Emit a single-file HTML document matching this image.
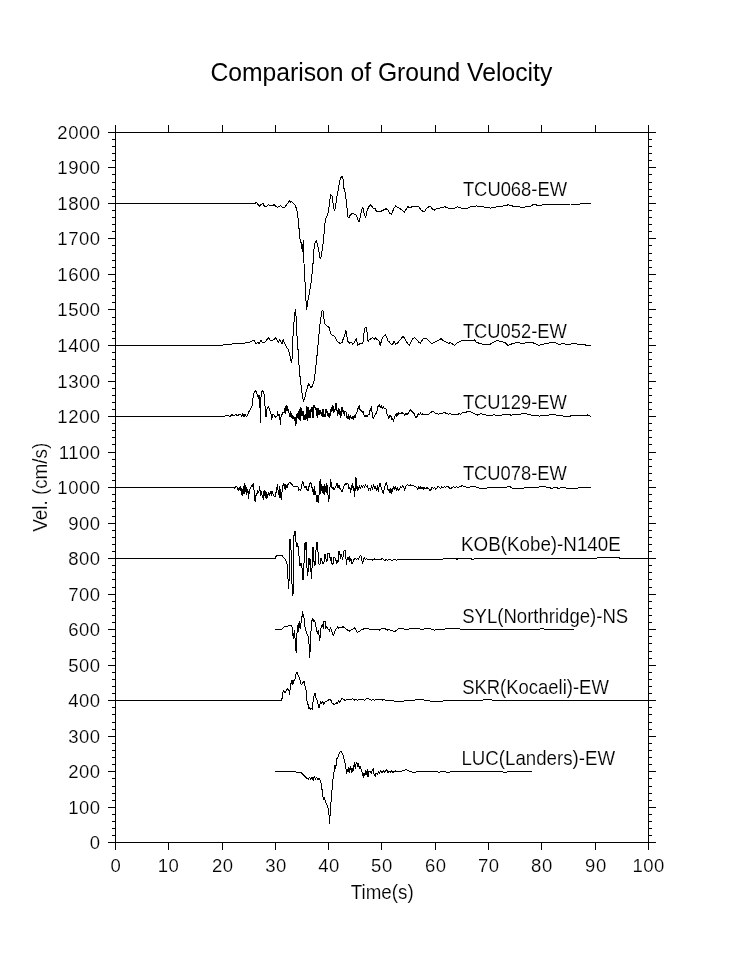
<!DOCTYPE html>
<html><head><meta charset="utf-8"><title>Comparison of Ground Velocity</title>
<style>html,body{margin:0;padding:0;background:#fff}body{width:754px;height:976px;position:relative;overflow:hidden;font-family:"Liberation Sans",sans-serif}</style>
</head><body>
<svg width="754" height="976" viewBox="0 0 754 976" style="position:absolute;left:0;top:0;will-change:transform">
<g fill="#000" shape-rendering="crispEdges">
<rect x="108" y="132" width="548" height="1"/>
<rect x="108" y="842" width="548" height="1"/>
<rect x="115" y="125" width="1" height="725"/>
<rect x="648" y="125" width="1" height="725"/>
<rect x="108" y="842" width="8" height="1"/>
<rect x="648" y="842" width="8" height="1"/>
<rect x="112" y="835" width="4" height="1"/>
<rect x="648" y="835" width="4" height="1"/>
<rect x="112" y="828" width="4" height="1"/>
<rect x="648" y="828" width="4" height="1"/>
<rect x="112" y="821" width="4" height="1"/>
<rect x="648" y="821" width="4" height="1"/>
<rect x="112" y="814" width="4" height="1"/>
<rect x="648" y="814" width="4" height="1"/>
<rect x="108" y="807" width="8" height="1"/>
<rect x="648" y="807" width="8" height="1"/>
<rect x="112" y="800" width="4" height="1"/>
<rect x="648" y="800" width="4" height="1"/>
<rect x="112" y="793" width="4" height="1"/>
<rect x="648" y="793" width="4" height="1"/>
<rect x="112" y="786" width="4" height="1"/>
<rect x="648" y="786" width="4" height="1"/>
<rect x="112" y="778" width="4" height="1"/>
<rect x="648" y="778" width="4" height="1"/>
<rect x="108" y="771" width="8" height="1"/>
<rect x="648" y="771" width="8" height="1"/>
<rect x="112" y="764" width="4" height="1"/>
<rect x="648" y="764" width="4" height="1"/>
<rect x="112" y="757" width="4" height="1"/>
<rect x="648" y="757" width="4" height="1"/>
<rect x="112" y="750" width="4" height="1"/>
<rect x="648" y="750" width="4" height="1"/>
<rect x="112" y="743" width="4" height="1"/>
<rect x="648" y="743" width="4" height="1"/>
<rect x="108" y="736" width="8" height="1"/>
<rect x="648" y="736" width="8" height="1"/>
<rect x="112" y="729" width="4" height="1"/>
<rect x="648" y="729" width="4" height="1"/>
<rect x="112" y="722" width="4" height="1"/>
<rect x="648" y="722" width="4" height="1"/>
<rect x="112" y="714" width="4" height="1"/>
<rect x="648" y="714" width="4" height="1"/>
<rect x="112" y="707" width="4" height="1"/>
<rect x="648" y="707" width="4" height="1"/>
<rect x="108" y="700" width="8" height="1"/>
<rect x="648" y="700" width="8" height="1"/>
<rect x="112" y="693" width="4" height="1"/>
<rect x="648" y="693" width="4" height="1"/>
<rect x="112" y="686" width="4" height="1"/>
<rect x="648" y="686" width="4" height="1"/>
<rect x="112" y="679" width="4" height="1"/>
<rect x="648" y="679" width="4" height="1"/>
<rect x="112" y="672" width="4" height="1"/>
<rect x="648" y="672" width="4" height="1"/>
<rect x="108" y="665" width="8" height="1"/>
<rect x="648" y="665" width="8" height="1"/>
<rect x="112" y="658" width="4" height="1"/>
<rect x="648" y="658" width="4" height="1"/>
<rect x="112" y="651" width="4" height="1"/>
<rect x="648" y="651" width="4" height="1"/>
<rect x="112" y="643" width="4" height="1"/>
<rect x="648" y="643" width="4" height="1"/>
<rect x="112" y="636" width="4" height="1"/>
<rect x="648" y="636" width="4" height="1"/>
<rect x="108" y="629" width="8" height="1"/>
<rect x="648" y="629" width="8" height="1"/>
<rect x="112" y="622" width="4" height="1"/>
<rect x="648" y="622" width="4" height="1"/>
<rect x="112" y="615" width="4" height="1"/>
<rect x="648" y="615" width="4" height="1"/>
<rect x="112" y="608" width="4" height="1"/>
<rect x="648" y="608" width="4" height="1"/>
<rect x="112" y="601" width="4" height="1"/>
<rect x="648" y="601" width="4" height="1"/>
<rect x="108" y="594" width="8" height="1"/>
<rect x="648" y="594" width="8" height="1"/>
<rect x="112" y="587" width="4" height="1"/>
<rect x="648" y="587" width="4" height="1"/>
<rect x="112" y="579" width="4" height="1"/>
<rect x="648" y="579" width="4" height="1"/>
<rect x="112" y="572" width="4" height="1"/>
<rect x="648" y="572" width="4" height="1"/>
<rect x="112" y="565" width="4" height="1"/>
<rect x="648" y="565" width="4" height="1"/>
<rect x="108" y="558" width="8" height="1"/>
<rect x="648" y="558" width="8" height="1"/>
<rect x="112" y="551" width="4" height="1"/>
<rect x="648" y="551" width="4" height="1"/>
<rect x="112" y="544" width="4" height="1"/>
<rect x="648" y="544" width="4" height="1"/>
<rect x="112" y="537" width="4" height="1"/>
<rect x="648" y="537" width="4" height="1"/>
<rect x="112" y="530" width="4" height="1"/>
<rect x="648" y="530" width="4" height="1"/>
<rect x="108" y="523" width="8" height="1"/>
<rect x="648" y="523" width="8" height="1"/>
<rect x="112" y="516" width="4" height="1"/>
<rect x="648" y="516" width="4" height="1"/>
<rect x="112" y="508" width="4" height="1"/>
<rect x="648" y="508" width="4" height="1"/>
<rect x="112" y="501" width="4" height="1"/>
<rect x="648" y="501" width="4" height="1"/>
<rect x="112" y="494" width="4" height="1"/>
<rect x="648" y="494" width="4" height="1"/>
<rect x="108" y="487" width="8" height="1"/>
<rect x="648" y="487" width="8" height="1"/>
<rect x="112" y="480" width="4" height="1"/>
<rect x="648" y="480" width="4" height="1"/>
<rect x="112" y="473" width="4" height="1"/>
<rect x="648" y="473" width="4" height="1"/>
<rect x="112" y="466" width="4" height="1"/>
<rect x="648" y="466" width="4" height="1"/>
<rect x="112" y="459" width="4" height="1"/>
<rect x="648" y="459" width="4" height="1"/>
<rect x="108" y="452" width="8" height="1"/>
<rect x="648" y="452" width="8" height="1"/>
<rect x="112" y="444" width="4" height="1"/>
<rect x="648" y="444" width="4" height="1"/>
<rect x="112" y="437" width="4" height="1"/>
<rect x="648" y="437" width="4" height="1"/>
<rect x="112" y="430" width="4" height="1"/>
<rect x="648" y="430" width="4" height="1"/>
<rect x="112" y="423" width="4" height="1"/>
<rect x="648" y="423" width="4" height="1"/>
<rect x="108" y="416" width="8" height="1"/>
<rect x="648" y="416" width="8" height="1"/>
<rect x="112" y="409" width="4" height="1"/>
<rect x="648" y="409" width="4" height="1"/>
<rect x="112" y="402" width="4" height="1"/>
<rect x="648" y="402" width="4" height="1"/>
<rect x="112" y="395" width="4" height="1"/>
<rect x="648" y="395" width="4" height="1"/>
<rect x="112" y="388" width="4" height="1"/>
<rect x="648" y="388" width="4" height="1"/>
<rect x="108" y="381" width="8" height="1"/>
<rect x="648" y="381" width="8" height="1"/>
<rect x="112" y="373" width="4" height="1"/>
<rect x="648" y="373" width="4" height="1"/>
<rect x="112" y="366" width="4" height="1"/>
<rect x="648" y="366" width="4" height="1"/>
<rect x="112" y="359" width="4" height="1"/>
<rect x="648" y="359" width="4" height="1"/>
<rect x="112" y="352" width="4" height="1"/>
<rect x="648" y="352" width="4" height="1"/>
<rect x="108" y="345" width="8" height="1"/>
<rect x="648" y="345" width="8" height="1"/>
<rect x="112" y="338" width="4" height="1"/>
<rect x="648" y="338" width="4" height="1"/>
<rect x="112" y="331" width="4" height="1"/>
<rect x="648" y="331" width="4" height="1"/>
<rect x="112" y="324" width="4" height="1"/>
<rect x="648" y="324" width="4" height="1"/>
<rect x="112" y="317" width="4" height="1"/>
<rect x="648" y="317" width="4" height="1"/>
<rect x="108" y="309" width="8" height="1"/>
<rect x="648" y="309" width="8" height="1"/>
<rect x="112" y="302" width="4" height="1"/>
<rect x="648" y="302" width="4" height="1"/>
<rect x="112" y="295" width="4" height="1"/>
<rect x="648" y="295" width="4" height="1"/>
<rect x="112" y="288" width="4" height="1"/>
<rect x="648" y="288" width="4" height="1"/>
<rect x="112" y="281" width="4" height="1"/>
<rect x="648" y="281" width="4" height="1"/>
<rect x="108" y="274" width="8" height="1"/>
<rect x="648" y="274" width="8" height="1"/>
<rect x="112" y="267" width="4" height="1"/>
<rect x="648" y="267" width="4" height="1"/>
<rect x="112" y="260" width="4" height="1"/>
<rect x="648" y="260" width="4" height="1"/>
<rect x="112" y="253" width="4" height="1"/>
<rect x="648" y="253" width="4" height="1"/>
<rect x="112" y="245" width="4" height="1"/>
<rect x="648" y="245" width="4" height="1"/>
<rect x="108" y="238" width="8" height="1"/>
<rect x="648" y="238" width="8" height="1"/>
<rect x="112" y="231" width="4" height="1"/>
<rect x="648" y="231" width="4" height="1"/>
<rect x="112" y="224" width="4" height="1"/>
<rect x="648" y="224" width="4" height="1"/>
<rect x="112" y="217" width="4" height="1"/>
<rect x="648" y="217" width="4" height="1"/>
<rect x="112" y="210" width="4" height="1"/>
<rect x="648" y="210" width="4" height="1"/>
<rect x="108" y="203" width="8" height="1"/>
<rect x="648" y="203" width="8" height="1"/>
<rect x="112" y="196" width="4" height="1"/>
<rect x="648" y="196" width="4" height="1"/>
<rect x="112" y="189" width="4" height="1"/>
<rect x="648" y="189" width="4" height="1"/>
<rect x="112" y="182" width="4" height="1"/>
<rect x="648" y="182" width="4" height="1"/>
<rect x="112" y="174" width="4" height="1"/>
<rect x="648" y="174" width="4" height="1"/>
<rect x="108" y="167" width="8" height="1"/>
<rect x="648" y="167" width="8" height="1"/>
<rect x="112" y="160" width="4" height="1"/>
<rect x="648" y="160" width="4" height="1"/>
<rect x="112" y="153" width="4" height="1"/>
<rect x="648" y="153" width="4" height="1"/>
<rect x="112" y="146" width="4" height="1"/>
<rect x="648" y="146" width="4" height="1"/>
<rect x="112" y="139" width="4" height="1"/>
<rect x="648" y="139" width="4" height="1"/>
<rect x="108" y="132" width="8" height="1"/>
<rect x="648" y="132" width="8" height="1"/>
<rect x="115" y="125" width="1" height="8"/>
<rect x="115" y="842" width="1" height="8"/>
<rect x="168" y="125" width="1" height="8"/>
<rect x="168" y="842" width="1" height="8"/>
<rect x="222" y="125" width="1" height="8"/>
<rect x="222" y="842" width="1" height="8"/>
<rect x="275" y="125" width="1" height="8"/>
<rect x="275" y="842" width="1" height="8"/>
<rect x="328" y="125" width="1" height="8"/>
<rect x="328" y="842" width="1" height="8"/>
<rect x="381" y="125" width="1" height="8"/>
<rect x="381" y="842" width="1" height="8"/>
<rect x="435" y="125" width="1" height="8"/>
<rect x="435" y="842" width="1" height="8"/>
<rect x="488" y="125" width="1" height="8"/>
<rect x="488" y="842" width="1" height="8"/>
<rect x="541" y="125" width="1" height="8"/>
<rect x="541" y="842" width="1" height="8"/>
<rect x="595" y="125" width="1" height="8"/>
<rect x="595" y="842" width="1" height="8"/>
<rect x="648" y="125" width="1" height="8"/>
<rect x="648" y="842" width="1" height="8"/>
</g>
<g font-family="'Liberation Sans', sans-serif" fill="#000" stroke="#fff" stroke-width="0.15">
<text x="210.45" y="81.00" font-size="25.6" textLength="341.80" lengthAdjust="spacingAndGlyphs" stroke="none">Comparison of Ground Velocity</text>
<text x="89.83" y="848.70" font-size="18.5" letter-spacing="0.55">0</text>
<text x="68.15" y="813.70" font-size="18.5" letter-spacing="0.55">100</text>
<text x="68.15" y="777.70" font-size="18.5" letter-spacing="0.55">200</text>
<text x="68.15" y="742.70" font-size="18.5" letter-spacing="0.55">300</text>
<text x="68.15" y="706.70" font-size="18.5" letter-spacing="0.55">400</text>
<text x="68.15" y="671.70" font-size="18.5" letter-spacing="0.55">500</text>
<text x="68.15" y="635.70" font-size="18.5" letter-spacing="0.55">600</text>
<text x="68.15" y="600.70" font-size="18.5" letter-spacing="0.55">700</text>
<text x="68.15" y="564.70" font-size="18.5" letter-spacing="0.55">800</text>
<text x="68.15" y="529.70" font-size="18.5" letter-spacing="0.55">900</text>
<text x="57.31" y="493.70" font-size="18.5" letter-spacing="0.55">1000</text>
<text x="58.69" y="458.70" font-size="18.5" letter-spacing="0.55">1100</text>
<text x="57.31" y="422.70" font-size="18.5" letter-spacing="0.55">1200</text>
<text x="57.31" y="387.70" font-size="18.5" letter-spacing="0.55">1300</text>
<text x="57.31" y="351.70" font-size="18.5" letter-spacing="0.55">1400</text>
<text x="57.31" y="315.70" font-size="18.5" letter-spacing="0.55">1500</text>
<text x="57.31" y="280.70" font-size="18.5" letter-spacing="0.55">1600</text>
<text x="57.31" y="244.70" font-size="18.5" letter-spacing="0.55">1700</text>
<text x="57.31" y="209.70" font-size="18.5" letter-spacing="0.55">1800</text>
<text x="57.31" y="173.70" font-size="18.5" letter-spacing="0.55">1900</text>
<text x="57.31" y="138.70" font-size="18.5" letter-spacing="0.55">2000</text>
<text x="110.56" y="872.30" font-size="18.5" letter-spacing="0.55">0</text>
<text x="157.79" y="872.30" font-size="18.5" letter-spacing="0.55">10</text>
<text x="212.03" y="872.30" font-size="18.5" letter-spacing="0.55">20</text>
<text x="265.14" y="872.30" font-size="18.5" letter-spacing="0.55">30</text>
<text x="318.29" y="872.30" font-size="18.5" letter-spacing="0.55">40</text>
<text x="371.12" y="872.30" font-size="18.5" letter-spacing="0.55">50</text>
<text x="425.02" y="872.30" font-size="18.5" letter-spacing="0.55">60</text>
<text x="478.02" y="872.30" font-size="18.5" letter-spacing="0.55">70</text>
<text x="531.09" y="872.30" font-size="18.5" letter-spacing="0.55">80</text>
<text x="585.06" y="872.30" font-size="18.5" letter-spacing="0.55">90</text>
<text x="632.38" y="872.30" font-size="18.5" letter-spacing="0.55">100</text>
<text x="350.78" y="899.00" font-size="20.2" textLength="62.87" lengthAdjust="spacingAndGlyphs">Time(s)</text>
<g transform="translate(46.8,0) rotate(-90)"><text x="-531.78" y="0.00" font-size="20.2" textLength="89.04" lengthAdjust="spacingAndGlyphs">Vel. (cm/s)</text></g>
<text x="462.89" y="196.20" font-size="20.2" textLength="104.17" lengthAdjust="spacingAndGlyphs">TCU068-EW</text>
<text x="462.89" y="338.20" font-size="20.2" textLength="103.97" lengthAdjust="spacingAndGlyphs">TCU052-EW</text>
<text x="462.89" y="409.20" font-size="20.2" textLength="103.97" lengthAdjust="spacingAndGlyphs">TCU129-EW</text>
<text x="462.89" y="480.20" font-size="20.2" textLength="103.97" lengthAdjust="spacingAndGlyphs">TCU078-EW</text>
<text x="461.07" y="551.40" font-size="20.2" textLength="159.73" lengthAdjust="spacingAndGlyphs">KOB(Kobe)-N140E</text>
<text x="462.16" y="623.30" font-size="20.2" textLength="166.08" lengthAdjust="spacingAndGlyphs">SYL(Northridge)-NS</text>
<text x="462.17" y="694.40" font-size="20.2" textLength="146.69" lengthAdjust="spacingAndGlyphs">SKR(Kocaeli)-EW</text>
<text x="461.48" y="765.40" font-size="20.2" textLength="153.58" lengthAdjust="spacingAndGlyphs">LUC(Landers)-EW</text>
</g>
<g fill="none" stroke="#000" stroke-width="1" shape-rendering="crispEdges" stroke-linejoin="round">
<polyline points="115.5,345.5 215.5,345.5 224.9,344.9 234.9,343.7 244.8,343.1 248.8,342.5 251.8,341.3 253.8,340.1 254.8,341.3 256.2,343.7 257.8,342.1 259.2,343.7 260.8,340.1 261.9,342.1 263.7,342.9 265.7,341.3 267.1,339.3 268.3,337.3 269.7,339.7 271.7,340.9 273.7,339.7 275.7,337.7 277.1,340.1 278.3,342.1 279.7,339.3 281.0,342.1 282.2,343.7 283.2,339.7 284.6,343.3 286.2,346.7 287.8,348.7 289.0,351.7 290.2,356.6 291.4,362.6 292.2,357.6 292.6,343.7 293.4,329.8 294.2,319.8 295.2,309.9 296.0,315.9 296.6,329.8 297.4,341.7 298.2,351.7 298.9,363.6 300.1,377.5 301.3,387.5 302.5,397.4 303.7,401.4 304.9,397.4 306.1,391.5 307.3,388.5 308.5,383.5 309.7,385.1 310.9,387.5 312.5,385.9 313.9,381.5 315.1,373.5 316.1,364.6 317.2,353.7 318.4,340.7 319.6,327.8 320.8,317.8 322.0,310.9 323.0,310.5 323.8,317.8 324.8,323.8 326.4,325.8 328.8,326.8 330.4,332.8 332.4,335.8 334.8,336.2 336.3,339.7 338.3,342.7 340.7,343.3 342.3,342.1 343.5,337.7 344.7,335.4 345.9,330.8 346.7,334.8 347.5,340.7 349.1,343.3 351.1,342.1 352.7,344.1 354.2,342.7 355.8,339.7 356.6,338.7 357.4,345.7 359.2,344.1 361.2,343.3 362.6,343.7 363.6,339.7 364.2,329.8 365.0,327.8 366.5,327.8 367.3,334.8 368.1,342.1 369.3,339.7 370.9,338.7 372.5,337.7 374.1,339.3 375.7,337.7 377.3,339.7 378.9,340.9 380.1,345.3 381.3,341.7 382.5,337.7 384.0,336.2 385.6,334.8 386.8,337.7 388.0,340.9 389.6,342.1 391.6,344.9 393.2,343.3 394.0,341.3 395.6,344.1 397.2,343.7 398.8,341.3 400.4,339.7 401.9,337.7 403.1,335.8 404.7,338.7 406.3,341.3 407.9,343.7 409.5,345.3 411.1,342.1 412.7,338.7 414.7,337.7 416.7,339.7 418.7,342.1 420.2,343.3 421.8,340.7 423.4,338.3 425.6,338.3 427.6,339.3 429.6,341.7 431.6,343.3 433.6,342.7 435.6,341.7 437.6,340.7 439.5,339.7 441.1,338.7 442.5,340.1 444.5,341.3 446.5,342.1 448.5,343.3 450.5,342.7 452.5,344.1 454.5,345.3 456.5,343.7 458.4,342.1 460.4,341.3 462.4,340.5 465.4,340.9 468.4,340.5 471.4,340.9 474.4,339.7 476.3,342.1 479.3,343.3 482.3,344.1 485.3,344.5 488.3,344.9 491.3,343.7 494.2,341.7 497.2,340.7 500.2,341.3 503.2,342.1 505.0,342.5 507.9,345.4 510.9,344.2 514.9,343.0 518.9,342.8 522.8,343.4 526.8,342.6 530.8,342.2 534.8,343.4 538.8,345.4 542.7,344.2 546.7,343.4 550.7,342.6 553.7,342.2 556.7,343.4 559.7,344.8 562.6,343.4 565.6,344.2 568.6,345.0 571.6,343.8 574.6,343.0 577.6,344.2 580.5,344.6 583.5,344.2 586.5,345.4 590.9,345.4"/>
<polyline points="115.5,203.5 253.5,203.5 255.5,203.2 256.3,202.2 257.9,204.2 259.3,206.2 260.9,204.8 262.9,203.2 264.3,206.2 266.9,206.2 268.4,204.8 269.8,205.4 272.8,205.4 274.2,204.6 275.8,206.2 277.8,207.3 279.2,206.2 280.8,205.8 282.8,208.1 284.2,207.7 286.2,205.4 287.7,203.4 289.3,200.8 290.7,202.2 292.1,201.8 293.3,203.8 294.7,204.2 296.1,207.7 297.3,212.1 298.3,219.7 299.1,229.6 300.1,239.6 301.3,243.5 302.3,251.9 303.3,240.6 303.7,253.5 304.5,279.4 305.2,283.3 306.0,301.2 306.8,309.2 307.6,301.2 308.6,297.3 309.6,291.3 310.8,285.3 312.0,274.4 313.2,261.5 314.0,249.5 315.2,241.6 316.4,240.6 317.6,245.5 318.8,249.5 319.6,257.5 320.6,258.9 321.6,253.5 322.8,245.5 323.9,235.6 324.7,224.7 325.9,218.7 327.1,215.7 328.3,212.1 329.5,202.8 330.5,194.8 331.9,195.4 333.1,203.8 334.3,210.1 335.5,207.7 336.5,198.8 337.9,191.8 339.1,184.9 340.5,177.9 341.9,176.3 343.0,178.9 343.8,187.8 345.4,193.8 346.6,203.8 347.8,216.7 349.0,217.7 350.4,214.7 352.4,213.3 354.4,214.1 356.4,215.3 357.8,219.7 359.0,221.7 360.4,216.7 361.7,209.7 362.9,207.7 364.1,213.7 365.7,217.3 366.9,211.7 368.3,207.7 370.3,204.8 371.7,206.2 373.3,208.1 375.3,208.7 376.5,211.7 378.3,211.3 380.2,211.7 382.2,210.7 384.2,209.7 386.2,208.7 388.2,210.1 389.6,213.7 391.5,214.1 392.9,210.7 394.3,207.7 395.9,205.8 397.5,207.3 399.9,208.7 401.9,209.7 404.3,212.1 405.9,209.7 407.8,206.7 409.8,207.7 411.8,206.9 414.2,206.5 416.8,206.9 418.8,206.5 420.8,209.7 422.8,211.3 424.8,211.3 426.2,208.7 428.7,206.9 430.7,206.9 432.7,209.3 434.7,210.1 436.7,208.7 439.7,208.1 442.7,207.7 444.7,206.5 446.6,207.7 448.6,208.3 451.6,208.3 454.6,208.1 457.6,206.9 459.6,207.7 461.6,208.1 464.5,208.9 467.5,208.1 470.5,206.9 473.5,206.5 476.5,205.8 479.5,206.5 483.4,206.9 487.4,207.7 490.4,208.1 494.4,207.3 499.4,206.5 504.3,205.8 508.3,204.8 511.3,205.8 515.3,206.5 519.2,206.9 523.2,207.3 527.2,206.7 530.0,206.5 533.4,204.5 539.5,205.5 544.8,204.5 551.4,205.0 558.0,204.7 564.7,204.5 570.0,204.0 577.9,204.2 584.6,203.4 591.2,203.4"/>
<polyline points="115.5,487.5 220.5,487.5 233.6,487.3 234.9,488.2 235.9,486.5 237.2,487.2 238.2,490.2 239.2,487.7 240.2,491.0 240.9,486.8 241.6,492.6 242.2,496.0 242.9,489.3 243.5,493.5 244.2,483.5 244.9,493.5 245.5,486.0 246.2,494.3 246.9,487.7 247.5,492.6 248.2,491.0 248.5,498.4 249.2,491.8 249.8,489.3 250.8,487.7 251.8,485.2 252.5,486.8 253.2,483.5 253.8,487.7 254.5,496.0 255.1,501.8 255.8,496.0 256.8,494.3 257.8,490.2 258.8,492.6 259.8,486.8 260.5,496.0 261.4,491.8 262.4,496.8 263.4,499.3 264.1,490.2 264.8,496.0 265.4,491.0 266.1,498.4 266.8,492.6 267.7,497.6 268.4,492.6 269.4,496.0 270.4,491.8 271.4,495.1 272.1,491.0 273.1,494.3 274.0,496.0 275.0,496.8 276.0,492.6 276.7,489.3 277.4,484.4 278.0,490.2 278.7,494.3 279.4,486.8 280.0,498.4 280.7,489.3 281.3,499.3 282.0,491.8 282.7,486.0 283.7,483.5 284.3,488.5 285.0,484.4 285.6,489.3 286.6,485.2 287.3,487.7 288.0,484.4 289.0,482.7 290.0,481.9 291.0,483.5 291.9,484.4 292.9,486.0 294.6,486.0 296.3,486.0 297.9,486.5 298.6,491.0 299.6,489.3 300.6,491.0 301.6,486.8 302.2,482.7 302.9,481.5 303.9,486.0 304.9,487.7 305.9,486.0 306.9,489.3 307.9,491.0 308.9,486.8 309.9,483.5 310.8,482.7 311.8,486.8 312.8,490.2 313.5,494.3 314.2,486.8 314.8,494.3 315.5,491.8 316.2,496.8 316.8,501.8 317.5,496.0 318.1,502.6 318.8,497.6 319.5,489.3 320.1,479.4 320.8,493.5 321.5,484.4 322.1,492.6 322.8,486.0 323.4,493.5 324.1,484.4 324.8,494.3 325.4,486.0 326.1,492.6 326.8,483.5 327.4,486.8 328.1,496.0 328.8,501.8 329.4,493.5 330.1,486.0 330.7,479.4 331.4,485.2 332.1,488.5 333.1,486.8 334.1,490.2 335.1,487.7 336.0,486.0 337.0,483.5 338.0,487.7 339.0,485.2 340.0,488.5 341.0,490.2 342.0,491.8 343.0,489.3 344.0,486.0 345.0,484.4 345.9,483.5 346.9,484.4 347.9,483.2 348.9,488.5 349.9,487.7 350.6,492.6 351.6,486.0 352.6,483.5 353.2,490.2 353.9,486.0 354.6,496.8 355.2,488.5 355.9,477.2 356.6,483.5 357.2,491.0 357.9,486.8 358.5,489.3 359.5,486.0 360.5,488.2 361.5,486.0 362.5,487.7 363.5,485.2 364.5,487.2 365.5,484.9 366.5,486.8 367.5,486.0 368.5,490.2 369.5,488.5 370.5,490.2 371.5,485.2 372.5,489.3 373.5,484.4 374.5,488.5 375.5,486.8 376.4,490.2 377.4,486.0 378.4,491.8 379.4,484.4 380.4,483.2 381.4,489.3 382.4,491.0 383.4,493.8 384.4,487.7 385.4,484.4 386.4,482.7 387.4,486.0 388.1,491.0 389.0,489.3 390.0,492.6 391.0,488.5 391.7,493.5 392.7,489.3 393.7,486.8 394.7,489.3 395.7,486.8 396.7,490.2 397.7,487.7 398.7,491.0 399.7,488.5 400.6,486.5 401.6,487.7 402.6,485.5 403.6,486.5 404.6,490.2 405.6,486.8 406.6,485.2 407.6,484.4 408.9,485.5 410.3,484.9 411.6,486.0 412.9,485.5 414.2,486.0 415.6,486.8 416.9,487.7 417.9,489.3 418.9,486.8 419.9,488.8 420.9,486.5 421.9,488.5 422.9,487.2 423.9,489.3 424.9,487.7 425.8,488.8 426.8,487.3 427.8,488.2 429.2,489.3 430.2,491.0 431.2,489.3 432.1,487.2 433.5,488.5 434.8,487.7 435.8,489.3 436.8,488.5 437.8,486.5 439.1,487.2 440.4,488.5 441.8,486.8 443.1,487.7 444.4,486.5 445.7,487.3 447.1,486.0 448.4,486.8 449.7,488.2 451.0,488.5 452.4,487.2 453.7,486.5 455.0,487.7 456.4,486.8 457.7,487.3 460.0,486.8 461.9,485.8 464.9,486.6 467.9,487.4 471.9,486.6 475.9,487.0 479.8,488.2 483.8,489.0 487.8,487.8 491.8,487.0 495.8,487.4 499.7,487.0 503.7,487.8 506.7,487.0 509.7,486.6 512.7,488.2 515.6,489.0 518.6,488.2 521.6,488.6 524.6,487.8 527.6,487.4 531.6,487.8 535.5,487.4 539.5,487.0 543.5,486.6 547.5,487.4 551.5,488.2 555.4,487.8 559.4,488.2 563.4,487.4 567.4,488.2 571.3,489.0 575.3,488.6 579.3,487.8 583.3,487.4 587.3,487.2 590.8,487.2"/>
<polyline points="115.5,416.5 205.5,416.5 224.9,416.1 226.6,415.3 229.0,416.1 229.9,416.8 231.5,414.8 234.0,415.3 235.7,414.5 237.3,415.6 239.0,414.8 240.6,414.1 241.8,416.1 242.8,413.1 244.0,416.8 245.1,413.8 246.4,416.8 247.8,414.8 248.8,411.5 249.8,410.6 251.1,408.2 252.1,405.7 252.7,399.9 253.7,394.1 254.7,391.6 255.7,390.7 256.7,393.2 257.7,396.2 258.4,399.0 259.0,394.6 259.7,399.9 260.0,408.2 260.4,422.2 260.7,408.2 261.0,396.6 261.7,391.6 262.7,390.7 263.7,391.2 264.4,396.6 265.0,405.7 265.7,411.5 266.0,417.3 266.7,409.8 267.7,407.3 268.7,406.2 269.3,409.0 270.3,412.3 271.3,414.8 271.8,419.4 272.6,414.5 273.8,414.8 275.0,416.4 276.0,417.3 276.9,416.4 277.6,411.5 278.3,415.6 279.3,414.8 279.9,418.4 280.4,424.7 280.9,417.3 281.9,414.8 282.9,412.3 283.9,413.1 285.4,406.5 285.6,413.3 286.4,407.8 286.6,405.7 287.4,407.3 287.6,410.2 288.4,409.3 288.6,412.6 289.4,413.3 289.6,416.1 290.4,416.5 290.6,411.3 291.4,414.8 291.6,416.9 292.4,418.1 292.6,415.6 293.4,416.8 293.6,418.5 294.4,417.6 294.6,420.5 295.4,417.2 295.6,425.3 296.4,422.5 296.6,415.2 297.4,413.7 297.6,417.3 298.4,418.1 298.6,413.3 299.4,409.3 299.6,418.5 300.4,420.5 300.6,407.3 301.4,408.5 301.6,415.7 302.4,415.3 302.6,411.7 303.4,411.7 303.6,419.3 304.4,419.3 304.6,416.0 305.4,414.4 305.6,419.3 306.4,418.5 306.6,406.5 307.4,407.3 307.6,420.5 308.4,414.5 308.6,407.3 309.4,412.1 309.6,417.3 310.4,417.3 310.6,409.7 311.4,407.7 311.6,411.8 312.4,407.3 312.6,417.3 313.4,417.3 313.6,405.3 314.4,406.1 314.6,407.8 315.4,407.3 315.6,409.4 316.4,408.5 316.6,415.3 317.4,417.3 317.6,408.5 318.4,408.5 318.6,414.5 319.4,414.5 319.6,410.1 320.4,410.9 320.6,413.7 321.4,412.5 321.6,415.3 322.4,416.1 322.6,409.7 323.4,409.7 323.6,416.1 324.4,416.5 324.6,414.0 325.4,416.1 325.6,409.7 326.4,409.7 326.6,413.0 327.4,411.7 327.6,415.3 328.4,416.5 328.6,413.7 329.4,413.3 329.6,417.3 330.4,415.3 330.6,409.7 331.4,407.7 331.6,411.8 332.4,409.4 332.6,405.3 333.4,407.7 333.6,412.2 334.4,411.8 334.6,409.3 335.4,409.8 335.6,403.3 336.4,404.1 336.6,411.0 337.4,410.1 337.6,415.3 338.4,413.0 338.6,408.5 339.4,409.7 339.6,414.1 340.4,411.7 340.6,417.3 341.4,415.3 341.6,407.3 342.4,407.7 342.6,411.8 343.4,410.5 343.6,413.3 344.4,415.3 344.6,411.3 346.2,412.3 347.2,418.9 348.2,414.8 349.2,419.4 350.2,415.6 351.2,418.4 352.2,416.4 353.2,419.4 354.2,415.6 355.1,418.1 356.1,414.0 357.1,411.5 358.1,408.2 359.1,405.7 360.1,409.8 361.1,410.6 362.1,412.3 363.1,411.5 364.1,415.6 365.1,416.4 366.1,414.8 367.1,416.8 368.1,414.5 369.1,414.8 369.7,410.6 370.7,409.8 371.4,406.5 372.1,412.3 372.7,417.3 373.7,418.1 374.7,415.6 375.7,414.0 376.7,413.1 377.4,408.2 378.0,406.5 379.4,404.8 380.3,407.3 381.3,405.7 382.3,408.2 383.3,406.2 384.3,409.0 385.3,408.2 386.3,409.8 387.0,414.0 388.0,415.6 389.0,418.4 390.0,415.6 391.0,416.4 391.6,419.8 392.6,418.4 393.3,421.4 394.3,418.4 395.3,414.8 396.3,416.4 396.9,413.1 397.9,415.6 398.9,412.8 400.4,413.5 402.1,412.8 403.7,413.5 404.9,415.6 405.9,413.5 407.2,414.5 408.5,413.1 409.5,410.6 410.5,409.8 411.5,411.1 412.8,412.3 414.2,413.5 415.2,416.4 416.2,417.8 417.5,415.6 418.5,413.5 419.5,414.8 420.5,412.8 421.5,414.5 422.8,413.8 424.1,415.1 425.4,414.1 426.9,415.1 428.6,414.5 430.2,412.8 431.9,411.8 433.6,411.5 435.2,413.5 436.9,413.1 438.5,414.5 440.2,413.5 441.9,413.8 443.5,412.8 445.0,412.5 445.8,413.5 448.3,414.1 450.7,413.8 453.2,414.5 455.7,414.1 457.4,414.8 459.0,413.5 460.7,414.5 462.4,412.8 464.8,412.5 467.3,411.8 469.8,411.5 472.3,412.3 474.0,413.5 475.6,414.5 477.3,415.1 478.9,414.1 481.4,413.8 483.9,414.5 486.4,415.1 488.9,415.8 491.4,415.5 493.9,414.8 496.3,415.5 498.8,415.8 501.3,415.1 503.8,414.8 506.3,414.5 508.8,414.8 511.3,415.1 513.7,414.8 516.2,414.5 518.7,414.8 520.4,414.1 522.0,413.8 524.5,413.5 527.0,414.1 529.5,414.8 532.0,415.1 534.5,415.5 537.0,415.8 539.4,416.1 541.9,415.8 544.4,415.1 546.9,415.5 549.4,414.8 551.9,414.5 554.4,414.8 556.9,415.1 560.0,415.1 560.6,415.8 564.6,416.2 568.6,416.2 572.6,415.8 576.6,415.4 580.5,415.8 584.5,415.4 587.5,415.0 590.9,416.2"/>
<polyline points="115.5,558.5 260.5,558.5 275.3,558.5 275.9,556.5 277.2,555.5 278.6,555.8 279.9,555.3 281.2,556.0 282.5,555.8 283.5,557.6 284.5,558.4 285.5,560.0 286.5,562.4 287.5,564.8 288.2,583.9 288.8,588.7 289.5,564.8 290.0,539.2 290.8,539.7 291.1,554.0 292.0,583.9 292.9,595.4 293.5,585.5 293.9,536.1 294.8,531.2 295.8,532.2 296.1,546.1 297.0,547.3 297.8,543.7 298.2,548.5 299.0,556.0 300.0,565.6 300.8,563.2 301.2,567.6 301.8,563.6 302.2,571.9 303.0,579.5 303.8,579.5 304.1,556.8 304.9,543.3 305.8,542.3 306.1,553.6 306.5,542.3 307.1,572.7 307.9,575.5 308.5,558.4 309.3,564.8 309.9,558.8 310.8,564.8 311.2,577.5 311.9,578.7 312.2,552.9 313.0,547.1 313.8,552.5 314.1,565.6 315.0,565.6 315.3,555.6 316.0,550.3 316.9,542.3 317.8,543.1 318.2,560.0 319.0,564.4 320.0,564.4 320.8,558.3 321.8,558.3 322.2,563.6 323.8,563.6 324.2,561.2 324.9,554.3 325.8,556.4 326.2,561.6 327.0,560.8 327.5,555.6 328.1,553.0 329.0,553.0 329.8,555.1 330.2,560.4 331.0,557.2 331.8,560.0 332.1,564.8 333.0,564.8 333.3,557.5 334.8,557.5 335.8,558.8 336.2,563.6 337.0,560.4 338.0,562.4 338.5,560.0 338.9,551.1 339.8,551.9 340.2,558.3 340.8,554.3 341.8,554.3 342.2,559.2 343.0,557.2 343.6,552.3 344.2,550.7 345.2,550.3 345.9,557.3 346.5,564.4 347.2,559.0 347.9,557.3 348.5,559.8 349.2,556.5 349.9,561.4 350.5,558.1 351.2,559.8 351.8,563.9 352.8,563.4 353.5,559.8 354.5,559.0 355.5,558.5 356.5,559.8 357.5,558.5 358.5,559.5 359.5,556.5 360.5,555.6 361.5,556.1 362.1,561.4 362.8,563.4 363.4,559.8 364.4,557.3 365.4,559.8 366.4,558.5 367.4,559.5 368.8,559.1 370.1,559.8 371.4,559.0 372.7,560.1 374.1,558.8 375.4,559.5 376.7,559.1 378.0,559.0 379.4,559.5 381.0,559.1 382.7,558.8 384.0,559.8 385.0,560.6 385.8,559.5 387.4,560.3 389.9,559.5 391.6,560.5 394.1,559.5 396.6,560.1 399.0,559.3 401.5,560.0 404.8,559.3 408.2,560.0 411.5,559.1 414.8,559.8 418.1,559.1 421.4,559.8 424.7,559.1 428.1,559.8 431.4,559.1 434.7,559.8 438.0,559.1 443.0,559.1 444.6,558.5 456.2,558.5 457.1,559.5 457.9,558.5 471.2,558.5 472.0,559.5 473.6,559.5 474.5,558.5 500.0,558.5 505.5,558.5 595.5,558.5 598.5,557.5 618.5,557.5 620.5,558.5 648.5,558.5"/>
<polyline points="275.3,771.4 284.9,771.4 286.9,772.0 288.9,771.2 290.9,772.0 294.8,771.6 297.8,772.4 300.8,772.4 302.8,774.4 304.8,776.4 306.8,778.4 308.4,779.2 309.6,777.2 310.8,779.8 311.9,777.2 313.1,780.4 314.3,776.4 315.5,779.2 316.7,777.2 317.9,779.8 319.1,778.4 320.3,780.4 321.1,783.7 321.9,788.7 322.7,794.7 323.5,799.7 324.3,797.1 325.1,800.6 326.3,803.6 327.5,806.6 328.7,810.2 329.5,823.5 330.2,813.6 331.0,802.6 331.8,792.7 332.6,782.7 333.4,774.8 334.2,770.8 335.0,764.8 335.8,768.8 336.6,758.9 337.8,757.9 339.0,753.9 340.2,751.9 341.4,751.5 342.6,753.9 343.8,757.9 345.0,762.8 345.8,767.8 346.6,773.8 347.4,769.8 348.2,771.8 348.9,767.8 349.7,772.8 350.5,766.8 351.3,772.4 352.1,767.8 352.9,771.8 353.7,766.8 354.5,762.8 355.3,768.8 356.1,763.8 356.9,762.5 357.7,766.8 358.5,763.2 359.3,768.4 360.1,765.8 361.3,769.8 362.5,773.8 363.3,777.2 364.1,772.8 364.9,775.8 365.7,770.8 366.5,774.8 367.2,769.8 368.0,776.8 368.8,771.8 370.0,770.8 371.2,773.8 372.4,769.8 373.2,768.4 374.0,773.8 375.2,776.8 376.0,772.8 377.2,774.4 378.4,771.8 379.6,773.2 380.8,770.8 382.0,772.4 383.2,770.4 384.4,772.4 385.5,770.8 386.7,769.8 387.9,772.8 389.1,771.2 390.3,772.4 391.5,770.8 392.7,772.4 394.3,771.6 395.9,770.8 397.5,772.0 399.1,771.2 400.7,772.0 402.3,770.8 403.9,770.4 405.4,769.6 407.0,770.0 408.6,770.8 410.2,771.6 412.2,772.0 415.0,772.4 418.9,770.9 422.9,771.7 426.9,771.3 430.9,771.7 434.8,771.3 438.8,772.1 442.8,771.7 446.8,772.1 452.7,771.9 458.7,771.3 462.7,771.7 468.7,771.5 474.6,771.9 480.6,771.7 486.6,771.5 492.5,771.9 498.5,771.7 504.5,772.1 510.4,771.9 516.4,771.5 522.4,771.7 528.3,771.3 531.9,771.3"/>
<polyline points="115.5,700.5 265.5,700.5 281.2,700.3 282.2,698.1 282.9,692.3 283.9,690.7 284.9,693.2 285.9,691.2 286.9,689.5 287.9,688.5 288.9,690.7 289.5,694.5 290.2,689.0 290.9,683.2 291.5,680.7 292.2,684.9 292.9,679.9 293.5,683.2 294.2,679.6 294.8,680.7 295.5,674.9 296.5,672.4 297.5,672.9 298.2,675.7 299.2,677.4 299.8,678.2 300.5,683.2 301.5,684.9 302.5,683.2 303.5,681.6 304.5,681.2 305.1,686.5 306.1,690.7 306.8,699.8 307.4,703.4 308.1,704.8 308.8,708.9 309.8,707.2 310.8,709.4 311.8,708.1 312.4,709.4 313.1,701.4 313.7,698.1 314.4,693.2 315.4,694.0 316.1,699.0 317.1,699.8 318.1,703.9 319.0,708.1 319.7,704.8 320.7,701.1 321.7,703.9 322.7,701.4 323.7,704.8 324.7,702.3 326.0,701.4 327.3,700.8 328.7,699.8 330.0,699.0 331.0,700.6 332.0,702.8 333.3,703.9 334.6,704.4 336.0,702.8 337.3,703.4 338.6,700.6 339.6,702.3 340.6,701.1 341.6,699.0 342.6,698.5 343.9,699.8 345.2,700.3 346.6,699.8 347.9,699.5 349.5,699.8 351.2,699.5 352.9,698.8 354.5,700.1 356.2,699.8 357.8,700.1 359.5,699.1 361.2,699.8 362.8,699.5 364.5,700.3 366.1,699.1 367.8,698.5 369.4,699.1 371.1,700.3 372.8,699.8 374.4,700.1 376.1,699.5 377.7,699.1 379.4,699.8 381.0,699.5 382.7,700.1 384.4,699.8 386.0,700.8 387.7,700.3 390.0,700.8 392.2,700.8 399.3,701.5 406.5,700.8 413.6,700.1 420.8,699.4 428.0,700.8 435.1,701.5 445.9,700.8 456.6,700.1 467.3,700.8 481.7,700.1 488.8,699.4 496.0,700.8 510.3,700.1 528.2,700.8 542.5,700.1 553.3,700.8 571.2,700.1 585.5,700.8 599.8,700.1 614.1,700.8 635.6,700.4 648.2,700.8"/>
<polyline points="274.9,629.3 281.6,629.3 283.2,627.8 284.9,626.5 287.4,626.2 289.9,625.5 291.9,625.8 292.5,634.0 293.5,638.4 294.2,630.6 294.8,634.8 295.5,646.4 296.2,652.7 296.8,636.4 297.5,625.7 298.2,631.5 298.8,624.0 299.5,621.5 300.1,629.0 300.8,624.8 301.5,619.9 302.1,614.9 302.5,611.2 303.1,618.2 303.8,614.9 304.5,625.7 305.5,628.2 306.4,632.3 307.4,634.8 308.4,636.4 309.1,644.7 309.6,657.7 310.1,651.4 310.6,638.1 311.4,624.8 312.1,619.9 312.7,618.5 313.7,621.5 314.7,620.7 315.7,624.8 316.4,630.6 317.4,633.1 318.4,630.1 319.0,634.8 319.7,640.6 320.4,634.8 321.0,628.2 321.7,625.2 322.7,624.5 323.4,629.0 324.0,621.5 325.0,621.2 325.7,628.2 326.7,626.5 327.7,629.0 328.7,629.5 329.7,631.8 330.3,627.3 331.3,629.8 332.3,633.1 333.3,635.1 334.3,634.0 335.3,630.1 336.3,629.0 337.6,626.8 338.9,628.2 340.3,627.5 341.6,627.8 342.9,626.8 344.2,627.2 345.6,628.5 346.9,629.5 348.2,630.6 349.5,631.1 350.9,630.1 352.2,629.8 353.5,628.2 354.5,627.5 355.5,629.5 356.5,631.1 357.5,632.5 358.8,631.5 360.2,631.1 361.2,629.5 362.8,629.2 364.5,628.7 366.1,629.0 367.8,628.5 369.4,629.0 371.1,629.5 372.8,629.8 374.4,629.5 376.1,629.8 377.7,629.3 379.4,630.1 381.0,629.0 382.7,628.2 384.4,628.5 386.0,629.2 387.7,630.1 390.0,629.8 390.6,630.2 394.6,631.8 398.6,628.6 406.5,629.2 414.5,628.6 422.4,629.2 429.1,628.1 434.4,630.2 439.7,629.2 456.9,628.6 462.2,629.2 467.5,629.7 475.5,629.2 539.2,629.2 541.8,628.6 544.5,629.2 573.6,629.2"/>
</g>
</svg>
</body></html>
